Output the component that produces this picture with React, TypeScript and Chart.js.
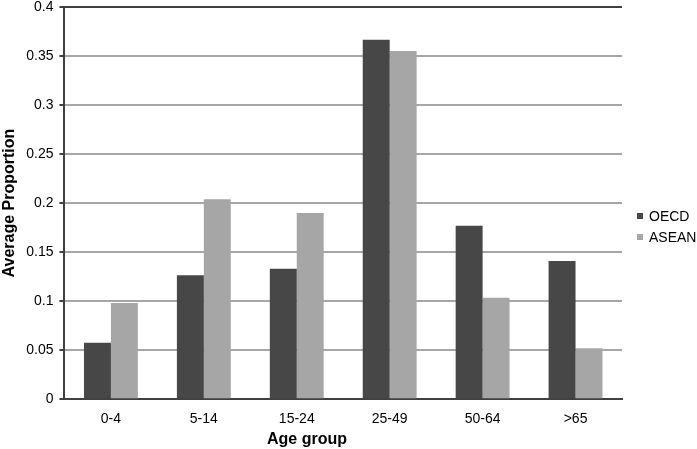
import React, { useEffect, useRef } from "react";
import { Chart, registerables } from "chart.js";

Chart.register(...registerables);

const categories = ["0-4", "5-14", "15-24", "25-49", "50-64", ">65"];
const oecdValues = [0.0575, 0.1265, 0.133, 0.3665, 0.177, 0.141];
const aseanValues = [0.098, 0.204, 0.19, 0.355, 0.1035, 0.052];
const seriesNames = ["OECD", "ASEAN"];
const seriesColors = ["#474747", "#a6a6a6"];
const xTitle = "Age group";
const yTitle = "Average Proportion";

const FONT = "'Liberation Sans', Arial, sans-serif";

const sidePlugin = {
  id: "sideLegendAndTitle",
  afterDraw(chart: any) {
    const ctx = chart.ctx;
    const area = chart.chartArea;
    ctx.save();
    ctx.font = `14px ${FONT}`;
    ctx.textBaseline = "middle";
    ctx.textAlign = "left";
    chart.data.datasets.forEach((ds: any, i: number) => {
      const y = 216 + i * 21;
      ctx.fillStyle = ds.backgroundColor;
      ctx.fillRect(area.right + 15, y - 3, 6, 6);
      ctx.fillStyle = "#000";
      ctx.fillText(ds.label, area.right + 27, y + 1);
    });
    ctx.font = `bold 16px ${FONT}`;
    ctx.textAlign = "center";
    ctx.textBaseline = "middle";
    ctx.fillStyle = "#000";
    ctx.fillText(xTitle, 307, 440);
    ctx.restore();
  },
};

export default function App() {
  const ref = useRef<HTMLCanvasElement | null>(null);
  useEffect(() => {
    if (!ref.current) return;
    const chart = new Chart(ref.current, {
      type: "bar",
      data: {
        labels: categories,
        datasets: [
          {
            label: seriesNames[0],
            data: oecdValues,
            backgroundColor: seriesColors[0],
            categoryPercentage: 0.58,
            barPercentage: 1,
          },
          {
            label: seriesNames[1],
            data: aseanValues,
            backgroundColor: seriesColors[1],
            categoryPercentage: 0.58,
            barPercentage: 1,
          },
        ],
      },
      plugins: [sidePlugin],
      options: {
        responsive: false,
        animation: false,
        layout: { padding: { top: 7, left: 0, right: 75, bottom: 9 } },
        plugins: {
          tooltip: { enabled: false },
          legend: { display: false },
        },
        scales: {
          x: {
            grid: { display: false, drawTicks: false },
            border: { display: true, color: "#404040", width: 2 },
            ticks: { color: "#000", font: { family: FONT, size: 14 }, padding: 12 },
          },
          y: {
            min: 0,
            max: 0.4,
            afterFit: (s: any) => {
              s.paddingTop = 0;
            },
            ticks: {
              stepSize: 0.05,
              color: "#000",
              font: { family: FONT, size: 14 },
              padding: 6,
              callback: (v: any) => parseFloat(Number(v).toFixed(2)).toString(),
            },
            grid: {
              color: (c: any) => (c.tick && Math.abs(c.tick.value - 0.4) < 1e-6 ? "#404040" : "#a6a6a6"),
              lineWidth: 2,
              tickColor: "#404040",
              tickLength: 5,
            },
            border: { display: true, color: "#404040", width: 2 },
            title: {
              display: true,
              text: yTitle,
              color: "#000",
              font: { family: FONT, size: 16, weight: "bold" },
              padding: { top: 0, bottom: 1 },
            },
          },
        },
      },
    });
    return () => chart.destroy();
  }, []);
  return (
    <div style={{ position: "absolute", left: 0, top: 0, width: 697, height: 449, background: "#fff" }}>
      <canvas ref={ref} width={697} height={449} />
    </div>
  );
}
